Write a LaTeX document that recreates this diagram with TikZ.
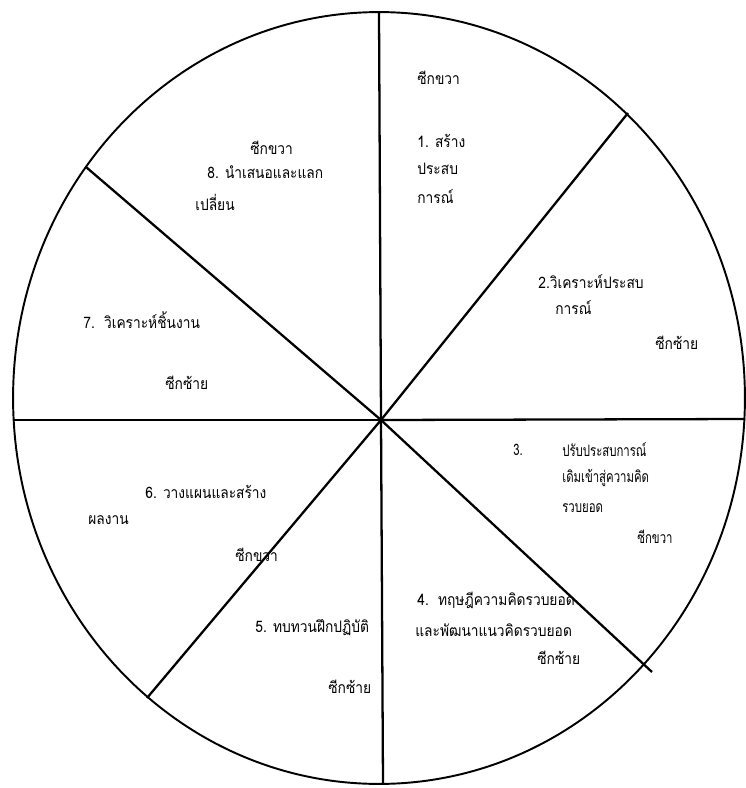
\documentclass[tikz,border=0pt]{standalone}
\usepackage{fontspec}
\newfontfamily\thaifont[Script=Thai, FakeStretch=0.87]{Loma}
\newfontfamily\thainarrow[Script=Thai, FakeStretch=0.72]{Loma}
\usetikzlibrary{positioning}
\tikzset{
  rim/.style={line width=1.1pt},
  spoke/.style={line width=1.3pt},
  txt/.style={font=\thaifont\fontsize{9}{11}\selectfont, anchor=west, inner sep=0pt},
  txtn/.style={txt, font=\thainarrow\fontsize{9}{11}\selectfont}
}
\begin{document}
\begin{tikzpicture}[x=0.02cm, y=-0.02cm]
\useasboundingbox (0,0) rectangle (746,788);
% spokes meet here, a bit below the rim's centre
\coordinate (ctr) at (381,420);
\coordinate (N) at (379,12);
\coordinate (NE) at (628,113);
\coordinate (E) at (745,419);
\coordinate (SE) at (652,672);
\coordinate (S) at (383,784);
\coordinate (SW) at (147,698);
\coordinate (W) at (13,420);
\coordinate (NW) at (86,167);
\draw[rim] (379,398) ellipse [x radius=7.32cm, y radius=7.72cm];
\foreach \p in {N,NE,E,SE,S,SW,W,NW}
  \draw[spoke] (ctr) -- (\p);
% sector 1
\node[txt] (s1side) at (417,78) {ซีกขวา};
\node[txt] (s1a) at (417,141) {1. สร้าง};
\node[txt] (s1b) at (417,169) {ประสบ};
\node[txt] (s1c) at (417,197) {การณ์};
% sector 2
\node[txt] (s2a) at (538,282) {2.วิเคราะห์ประสบ};
\node[txt] (s2b) at (555,308) {การณ์};
\node[txt] (s2side) at (655,343) {ซีกซ้าย};
% sector 3
\node[txtn] (s3n) at (513,450) {3.};
\node[txtn] (s3a) at (562,450) {ปรับประสบการณ์};
\node[txtn] (s3b) at (562,478) {เดิมเข้าสู่ความคิด};
\node[txtn] (s3c) at (562,508) {รวบยอด};
\node[txtn] (s3side) at (637,537) {ซีกขวา};
% sector 4
\node[txt] (s4a) at (417,600) {4.\ \ ทฤษฎีความคิดรวบยอด};
\node[txt] (s4b) at (415,630) {และพัฒนาแนวคิดรวบยอด};
\node[txt] (s4side) at (537,658) {ซีกซ้าย};
% sector 5
\node[txt] (s5a) at (255,628) {5. ทบทวนฝึกปฏิบัติ};
\node[txt] (s5side) at (328,687) {ซีกซ้าย};
% sector 6
\node[txt] (s6a) at (145,492) {6. วางแผนและสร้าง};
\node[txt] (s6b) at (88,520) {ผลงาน};
\node[txt] (s6side) at (235,555) {ซีกขวา};
% sector 7
\node[txt] (s7a) at (83,320) {7.\ \ วิเคราะห์ชิ้นงาน};
\node[txt] (s7side) at (165,383) {ซีกซ้าย};
% sector 8
\node[txt] (s8side) at (250,148) {ซีกขวา};
\node[txt] (s8a) at (207,172) {8. นำเสนอและแลก};
\node[txt] (s8b) at (195,202) {เปลี่ยน};
\end{tikzpicture}
\end{document}
